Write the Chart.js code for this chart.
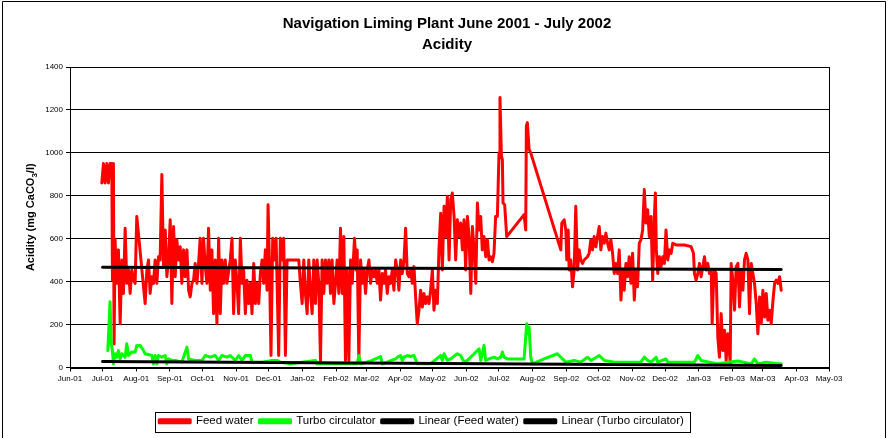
<!DOCTYPE html>
<html>
<head>
<meta charset="utf-8">
<script src="https://cdn.jsdelivr.net/npm/chart.js@4/dist/chart.umd.min.js"></script>
<style>
  html, body { margin: 0; padding: 0; background: #fff; }
  canvas { display: block; }
</style>
</head>
<body>
<canvas id="acidityChart" width="889" height="438"></canvas>
<script>
// days counted from 1 June 2001
const monthLabels = ['Jun-01', 'Jul-01', 'Aug-01', 'Sep-01', 'Oct-01', 'Nov-01', 'Dec-01', 'Jan-02',
    'Feb-02', 'Mar-02', 'Apr-02', 'May-02', 'Jun-02', 'Jul-02', 'Aug-02', 'Sep-02', 'Oct-02',
    'Nov-02', 'Dec-02', 'Jan-03', 'Feb-03', 'Mar-03', 'Apr-03', 'May-03'];
const yTicks = [0, 200, 400, 600, 800, 1000, 1200, 1400];
const titleLines = ['Navigation Liming Plant June 2001 - July 2002', 'Acidity'];

const feedDays = [29.3, 30.8, 32.3, 33.9, 35.4, 36.9, 38.5, 39.1, 40, 40.6, 41.5, 43.1, 44.6, 46.2, 47.7, 49.2,
    50.8, 52.3, 53.9, 55.4, 56.9, 58.5, 60, 61.5, 69.2, 70.8, 72.3, 73.8, 75.4, 76.9, 78.4, 80, 81.5, 83, 84.6,
    86.1, 87.7, 89.2, 90.7, 92.3, 93.8, 95.4, 96.9, 98.4, 100, 101.5, 103, 104.6, 106.1, 107.7, 109.2, 110.7,
    112.3, 113.8, 115.3, 116.9, 118.4, 119.9, 121.5, 123, 124.6, 126.1, 127.6, 129.2, 130.7, 132.2, 133.8,
    135.3, 136.9, 138.4, 139.9, 141.5, 143, 144.5, 147.6, 149.2, 150.7, 152.2, 153.8, 155.3, 156.9, 158.4,
    159.9, 161.5, 163, 164.5, 166.1, 167.6, 169.2, 170.7, 172.2, 173.8, 175.3, 176.9, 178.4, 179.9, 181.5,
    182.4, 183.6, 185.1, 186.7, 188.2, 189.8, 192.2, 193.7, 195.3, 196.8, 198.4, 199.9, 210.7, 212.2, 213.8,
    215.3, 216.8, 218.4, 219.9, 221.5, 223, 224.5, 226.1, 227.6, 229.1, 230.7, 232.2, 233.8, 235.3, 236.8,
    238.4, 239.9, 241.4, 243, 244.5, 246, 247.6, 249.1, 250.7, 252.2, 253.7, 255.3, 256.8, 258.4, 259.9, 262,
    263.6, 264.5, 266, 267.6, 269.1, 270.7, 272.2, 273.7, 275.3, 276.8, 278.3, 279.9, 281.4, 283, 284.5, 286,
    287.6, 289.1, 290.6, 292.2, 293.7, 295.2, 296.8, 298.3, 299.9, 301.4, 302.9, 304.5, 306, 307.6, 309.1,
    310.6, 312.2, 313.7, 315.2, 316.8, 318.3, 319.8, 321.4, 322.9, 324.5, 326, 327.5, 329.1, 330.6, 332.1,
    333.7, 335.2, 336.8, 338.3, 339.8, 341.4, 342.9, 344.5, 346, 347.5, 349.1, 350.6, 352.1, 353.7, 355.2,
    356.7, 358.3, 359.8, 361.4, 362.9, 364.4, 366, 367.5, 369.1, 370.6, 372.1, 373.7, 375.2, 376.7, 378.2,
    379.7, 381.3, 382.8, 384.4, 385.9, 387.4, 389, 390.5, 392, 393.6, 395.1, 396, 397.3, 398.2, 398.8, 400.3,
    402.2, 418.2, 419.7, 420.3, 421.2, 422.8, 424.3, 452, 452.9, 455.1, 456.6, 457.5, 458.8, 459.7, 461.2,
    462.8, 464.3, 465.8, 467.4, 468.9, 470.4, 472, 473.5, 476.6, 478.1, 479.7, 481.2, 482.7, 484.3, 485.8,
    487.4, 488.9, 490.4, 492, 493.5, 495.1, 496.6, 498.1, 499.7, 501.2, 502.7, 504.3, 505.8, 507.4, 508.9,
    510.4, 512, 513.5, 515, 516.6, 518.1, 519.7, 521.2, 522.7, 524.3, 525.8, 527.4, 528.9, 530.4, 532, 533.5,
    535.1, 536.6, 538.2, 539.1, 540, 541.3, 542.8, 544.3, 545.9, 547.4, 548.9, 550.5, 552, 553.6, 555.1,
    558.2, 565.9, 572, 574.2, 575.1, 576.6, 578.2, 579.7, 581.2, 582.8, 584.3, 585.8, 587.4, 588.9, 590.5,
    591.4, 592.6, 593.5, 595.1, 596.6, 598.1, 599.7, 601.2, 602.8, 604.3, 605.8, 606.8, 608, 608.9, 610.4,
    612, 613.5, 615.1, 616.6, 618.1, 619.7, 621.2, 622.7, 624.3, 625.8, 627.4, 628.9, 630.4, 632, 633.5,
    635.1, 636.6, 638.1, 639.7, 641.2, 642.7, 644.3, 645.8, 647.4, 648.9, 650.4, 651.9, 653.5, 655];
const feedValues = [860, 950, 860, 950, 860, 950, 950, 407, 950, 110, 595, 392, 548, 204, 501, 345,
    649, 392, 454, 345, 454, 407, 392, 704, 298, 454, 501, 345, 423, 392, 501, 392, 516, 501, 899,
    470, 641, 423, 501, 688, 298, 657, 423, 595, 501, 563, 392, 548, 423, 548, 360, 329,
    392, 407, 485, 392, 485, 602, 392, 602, 470, 392, 649, 360, 548, 251, 501,
    204, 602, 251, 501, 392, 501, 392, 501, 602, 251, 501, 392, 251, 602, 392,
    454, 251, 407, 298, 392, 251, 485, 298, 392, 298, 438, 501, 392, 548, 360,
    758, 501, 56, 602, 501, 602, 56, 602, 501, 602, 56, 501, 501, 392, 298,
    501, 345, 251, 501, 345, 251, 501, 298, 501, 392, 33, 501, 345, 501, 392,
    501, 345, 501, 298, 392, 501, 345, 649, 345, 610, 33, 454, 33, 501, 392, 602,
    454, 548, 33, 501, 392, 454, 345, 454, 501, 392, 454, 423, 454, 392, 454, 314,
    438, 392, 454, 345, 423, 392, 454, 360, 501, 454, 360, 501, 438, 501, 649,
    438, 423, 454, 392, 470, 329, 204, 267, 360, 282, 345, 298, 329, 298, 360,
    454, 267, 360, 298, 548, 719, 454, 751, 610, 798, 501, 782, 813, 704, 501,
    688, 610, 673, 548, 688, 454, 704, 610, 345, 657, 548, 392, 766, 641, 704,
    548, 610, 516, 595, 501, 516, 493, 532, 704, 704, 1000, 1258, 985, 969, 766, 758,
    610, 712, 641, 1125, 1141, 1016, 1000, 548, 673, 688, 641, 501, 641, 454, 501,
    376, 454, 751, 454, 548, 501, 485, 501, 516, 532, 595, 548, 610, 563, 610,
    657, 548, 610, 579, 626, 579, 548, 595, 532, 438, 485, 438, 548, 314, 454,
    360, 485, 423, 516, 392, 532, 314, 454, 376, 579, 595, 641, 829, 673, 735, 610,
    704, 407, 704, 813, 548, 438, 516, 470, 516, 485, 641, 501, 548, 532, 579,
    571, 571, 563, 532, 438, 407, 438, 485, 423, 470, 516, 454, 485, 438, 454,
    204, 392, 454, 438, 142, 48, 251, 79, 173, 33, 157, 111, 17, 485, 407,
    267, 470, 485, 282, 454, 360, 501, 532, 501, 251, 485, 438, 392, 298, 157,
    329, 204, 360, 235, 345, 220, 267, 204, 313, 392, 407, 392, 423, 360];

const turboDays = [34.8, 36, 36.9, 37.9, 39.1, 40, 41.5, 43.1, 44.6, 46.2, 47.7, 50.8, 52.3, 53.9, 56.9, 60,
    61.5, 64.6, 67.7, 69.2, 75.4, 76.9, 78.4, 80, 81.5, 84.6, 87.7, 89.2, 90.7, 93.8, 96.9, 103, 107.7, 109.2,
    115.3, 121.5, 124.6, 129.2, 133.8, 136.9, 139.9, 144.5, 147.6, 152.2, 155.3, 158.4, 161.5, 166.1, 167.6,
    176.9, 186.1, 190.7, 193.7, 203, 226.1, 227.6, 264.5, 266, 267.6, 276.8, 286, 287.6, 299.9, 301.4, 304.5,
    306, 307.6, 310.6, 313.7, 316.8, 319.8, 332.1, 341.4, 342.9, 344.5, 347.5, 350.6, 356.7, 359.8, 362.9,
    366, 375.2, 376.7, 378.3, 381.3, 382.8, 385.9, 390.5, 393.6, 396.7, 398.2, 399.7, 402.8, 418.2, 420.6,
    421.9, 422.8, 424.3, 425.9, 436.6, 448.9, 452, 456.6, 464.3, 470.4, 476.6, 479.7, 487.4, 492, 501.2,
    513.5, 525.8, 528.9, 532, 535.1, 539.7, 541.3, 548.9, 550.5, 575.1, 578.2, 581.2, 596.6, 615, 627.4,
    630.4, 633.5, 641.2, 651.9, 655];
const turboValues = [79, 204, 306, 111, 79, 17, 64, 48, 79, 40, 64, 48, 111, 56, 72, 72,
    103, 103, 79, 64, 56, 17, 56, 17, 56, 48, 56, 17, 40, 33, 33, 25, 95, 40,
    33, 33, 56, 48, 56, 33, 56, 48, 56, 33, 56, 33, 56, 56, 25,
    25, 33, 33, 25, 17, 33, 17, 17, 56, 17, 30, 51, 17, 40, 48, 56,
    33, 48, 56, 51, 56, 17, 17, 56, 33, 64, 33, 40, 64, 56, 25,
    33, 79, 87, 33, 103, 33, 40, 48, 40, 48, 72, 48, 40, 40, 204,
    157, 189, 48, 17, 40, 64, 48, 25, 33, 25, 48, 33, 56, 33, 25,
    25, 25, 48, 33, 25, 48, 25, 40, 25, 25, 56, 33, 17, 30, 17,
    40, 17, 25, 17, 17];

// linear trend lines, read at their two ends
const trendDays = [30, 655];
const feedTrend = [467, 457];
const turboTrend = [28, 9];

const monthDays = monthLabels.map(function (l, i) {
    return (Date.UTC(2001, 5 + i, 1) - Date.UTC(2001, 5, 1)) / 864e5;
});

const FONT = '"Liberation Sans", Arial, sans-serif';

function toPoints(xs, ys) {
    return xs.map(function (x, i) { return { x: x, y: ys[i] }; });
}

const framePlugin = {
    id: 'frame',
    beforeDraw: function (chart) {
        const ctx = chart.ctx;
        ctx.save();
        ctx.fillStyle = '#fff';
        ctx.fillRect(0, 0, chart.width, chart.height);
        ctx.strokeStyle = '#000';
        ctx.lineWidth = 1;
        ctx.beginPath();
        ctx.moveTo(2.5, chart.height);
        ctx.lineTo(2.5, 1.5);
        ctx.lineTo(885.5, 1.5);
        ctx.lineTo(885.5, chart.height);
        ctx.stroke();
        ctx.restore();
    },
    afterDraw: function (chart) {
        const ctx = chart.ctx;
        const a = chart.chartArea;
        ctx.save();
        ctx.strokeStyle = '#000';
        ctx.lineWidth = 1;
        ctx.strokeRect(Math.round(a.left) + 0.5, Math.round(a.top) + 0.5,
            Math.round(a.right - a.left), Math.round(a.bottom - a.top));

        // chart title
        ctx.fillStyle = '#000';
        ctx.textAlign = 'center';
        ctx.textBaseline = 'middle';
        ctx.font = 'bold 15px ' + FONT;
        ctx.fillText(titleLines[0], 447, 24);
        ctx.fillText(titleLines[1], 447, 45);

        // y axis title with subscript
        const main = 'Acidity (mg CaCO', sub = '3', rest = '/l)';
        ctx.font = 'bold 11px ' + FONT;
        const w1 = ctx.measureText(main).width, w3 = ctx.measureText(rest).width;
        ctx.font = 'bold 8px ' + FONT;
        const w2 = ctx.measureText(sub).width;
        const total = w1 + w2 + w3;
        ctx.translate(30, (a.top + a.bottom) / 2);
        ctx.rotate(-Math.PI / 2);
        ctx.textAlign = 'left';
        ctx.textBaseline = 'alphabetic';
        ctx.font = 'bold 11px ' + FONT;
        ctx.fillText(main, -total / 2, 4);
        ctx.font = 'bold 8px ' + FONT;
        ctx.fillText(sub, -total / 2 + w1, 7);
        ctx.font = 'bold 11px ' + FONT;
        ctx.fillText(rest, -total / 2 + w1 + w2, 4);
        ctx.setTransform(1, 0, 0, 1, 0, 0);

        // box round the legend
        const boxes = chart.legend.legendHitBoxes;
        if (boxes && boxes.length) {
            let l = Infinity, r = -Infinity, t = Infinity, b = -Infinity;
            boxes.forEach(function (h) {
                l = Math.min(l, h.left); r = Math.max(r, h.left + h.width);
                t = Math.min(t, h.top); b = Math.max(b, h.top + h.height);
            });
            ctx.strokeRect(Math.round(l - 4) + 0.5, Math.round(t - 4) + 0.5,
                Math.round(r - l + 10), Math.round(b - t + 8));
        }
        ctx.restore();
    }
};

const ctx = document.getElementById('acidityChart').getContext('2d');
const acidityChart = new Chart(ctx, {
    type: 'line',
    data: {
        datasets: [{
            label: 'Feed water',
            data: toPoints(feedDays, feedValues),
            borderColor: '#ff0000',
            backgroundColor: '#ff0000',
            borderWidth: 3,
            order: 3
        }, {
            label: 'Turbo circulator',
            data: toPoints(turboDays, turboValues),
            borderColor: '#00ff00',
            backgroundColor: '#00ff00',
            borderWidth: 3,
            order: 2
        }, {
            label: 'Linear (Feed water)',
            data: toPoints(trendDays, feedTrend),
            borderColor: '#000000',
            backgroundColor: '#000000',
            borderWidth: 3,
            order: 0
        }, {
            label: 'Linear (Turbo circulator)',
            data: toPoints(trendDays, turboTrend),
            borderColor: '#000000',
            backgroundColor: '#000000',
            borderWidth: 3,
            order: 1
        }]
    },
    options: {
        responsive: false,
        animation: false,
        devicePixelRatio: 1,
        layout: { padding: { left: 14, right: 60, top: 67, bottom: 1 } },
        elements: {
            point: { radius: 0 },
            line: { tension: 0, borderJoinStyle: 'round', borderCapStyle: 'round' }
        },
        plugins: {
            title: { display: false },
            legend: {
                position: 'bottom',
                labels: {
                    color: '#000',
                    font: { family: FONT, size: 11.5 },
                    boxWidth: 31,
                    boxHeight: 3,
                    padding: 6,
                    sort: function (a, b) { return a.datasetIndex - b.datasetIndex; }
                }
            },
            tooltip: { enabled: false }
        },
        scales: {
            x: {
                type: 'linear',
                min: 0,
                max: monthDays[monthDays.length - 1],
                afterBuildTicks: function (scale) {
                    scale.ticks = monthDays.map(function (d) { return { value: d }; });
                },
                afterFit: function (scale) { scale.height = 42; },
                grid: { display: true, drawOnChartArea: false, color: '#000', tickLength: 4 },
                border: { color: '#000', width: 1 },
                ticks: {
                    autoSkip: false,
                    maxRotation: 0,
                    color: '#000',
                    padding: 2,
                    font: { family: FONT, size: 8 },
                    callback: function (v) { return monthLabels[monthDays.indexOf(v)]; }
                }
            },
            y: {
                min: 0,
                max: 1400,
                afterBuildTicks: function (scale) {
                    scale.ticks = yTicks.map(function (v) { return { value: v }; });
                },
                afterFit: function (scale) { scale.width = 56; },
                grid: { color: '#000', lineWidth: 1, tickLength: 4 },
                border: { color: '#000', width: 1 },
                ticks: {
                    color: '#000',
                    padding: 3,
                    font: { family: FONT, size: 8 },
                    callback: function (v) { return String(v); }
                }
            }
        }
    },
    plugins: [framePlugin]
});
</script>
</body>
</html>
